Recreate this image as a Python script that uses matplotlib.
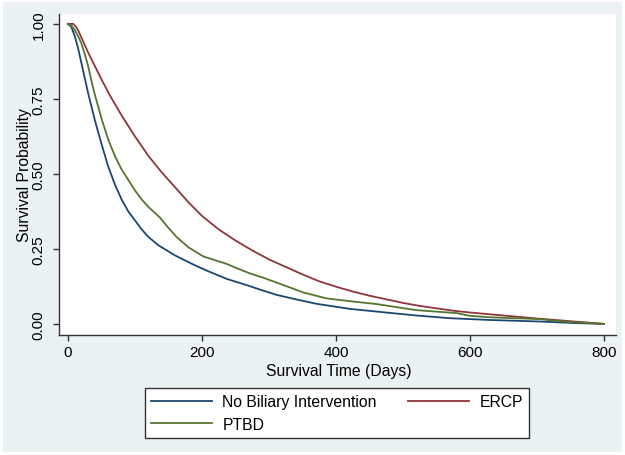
import numpy as np
import matplotlib
matplotlib.use("Agg")
import matplotlib.pyplot as plt
from matplotlib.patches import Rectangle

plt.rcParams["font.family"] = ["Liberation Sans", "DejaVu Sans"]

# survival curves (days, probability)
days_none = [0, 5, 10, 15, 20, 30, 40, 50, 60, 70, 80, 90, 100, 110, 120, 135, 160,
             187, 210, 237, 270, 287, 311, 340, 371, 421, 470, 520, 570, 630, 704,
             754, 800]
surv_none = [1.0, 0.99, 0.96, 0.92, 0.87, 0.77, 0.68, 0.60, 0.525, 0.465, 0.415,
             0.375, 0.345, 0.315, 0.29, 0.262, 0.228, 0.198, 0.175, 0.15, 0.127,
             0.114, 0.097, 0.082, 0.067, 0.05, 0.039, 0.028, 0.019, 0.013, 0.008,
             0.003, 0.0]

days_ptbd = [0, 5, 10, 15, 20, 25, 30, 35, 40, 50, 60, 70, 80, 90, 100, 110, 120,
             137, 150, 162, 180, 202, 220, 237, 255, 272, 290, 321, 351, 386, 420,
             461, 490, 520, 555, 580, 600, 630, 704, 744, 800]
surv_ptbd = [1.0, 0.995, 0.98, 0.96, 0.935, 0.90, 0.86, 0.81, 0.765, 0.685, 0.615,
             0.56, 0.515, 0.48, 0.445, 0.415, 0.39, 0.355, 0.32, 0.29, 0.255, 0.225,
             0.212, 0.20, 0.183, 0.168, 0.155, 0.13, 0.105, 0.085, 0.076, 0.066,
             0.056, 0.046, 0.04, 0.036, 0.027, 0.022, 0.016, 0.007, 0.0]

days_ercp = [0, 8, 12, 16, 20, 25, 30, 40, 50, 63, 80, 100, 120, 140, 160, 180, 200,
             225, 250, 275, 300, 325, 350, 375, 400, 425, 450, 475, 500, 525, 550,
             575, 600, 650, 700, 750, 800]
surv_ercp = [1.0, 1.0, 0.99, 0.975, 0.955, 0.93, 0.905, 0.86, 0.815, 0.76, 0.695,
             0.625, 0.56, 0.505, 0.455, 0.405, 0.36, 0.315, 0.278, 0.245, 0.215,
             0.19, 0.165, 0.142, 0.124, 0.108, 0.094, 0.082, 0.07, 0.06, 0.052,
             0.044, 0.038, 0.028, 0.018, 0.009, 0.0]

x_ticks = [0, 200, 400, 600, 800]
y_ticks = [0.0, 0.25, 0.5, 0.75, 1.0]

navy = "#1a476f"
maroon = "#90353b"
green = "#55752f"
axis_col = "#333333"

fig = plt.figure(figsize=(6.25, 4.56), dpi=100, facecolor="white")
fig.add_artist(Rectangle((3 / 625, 3 / 456), 619 / 625, 450 / 456,
                         transform=fig.transFigure, facecolor="#eaf2f3",
                         edgecolor="none", zorder=-10))

ax = fig.add_axes([59 / 625, 120 / 456, 557 / 625, 321 / 456])
ax.set_facecolor("white")

l1, = ax.plot(days_none, surv_none, color=navy, lw=1.3, label="No Biliary Intervention")
l3, = ax.plot(days_ercp, surv_ercp, color=maroon, lw=1.3, label="ERCP")
l2, = ax.plot(days_ptbd, surv_ptbd, color=green, lw=1.3, label="PTBD")

ax.set_xlim(-13.4, 818)
ax.set_ylim(-0.037, 1.033)
ax.set_xticks(x_ticks)
ax.set_yticks(y_ticks)
ax.set_yticklabels([f"{v:.2f}" for v in y_ticks], rotation=90, va="center")

for side in ["top", "right"]:
    ax.spines[side].set_visible(False)
for side in ["left", "bottom"]:
    ax.spines[side].set_color(axis_col)
    ax.spines[side].set_linewidth(1.0)
ax.tick_params(colors=axis_col, labelcolor="black", labelsize=11, length=4.5, width=1.0)
ax.tick_params(axis="x", pad=3)
ax.tick_params(axis="y", pad=5)

ax.set_xlabel("Survival Time (Days)", fontsize=11.3)
ax.xaxis.set_label_coords(0.502, -0.088)
ax.set_ylabel("Survival Probability", fontsize=11.3)
ax.yaxis.set_label_coords(-0.048, 0.5)

leg = fig.legend(handles=[l1, l2, l3], ncol=2, loc="center",
                 bbox_to_anchor=(337 / 625, 42 / 456), fontsize=11.3,
                 handlelength=3.9, handletextpad=0.65, columnspacing=2.0,
                 labelspacing=0.45, borderpad=0.4, fancybox=False,
                 framealpha=1, edgecolor=axis_col)
leg.get_frame().set_linewidth(1.0)

fig.savefig("out.png", dpi=100, facecolor=fig.get_facecolor())
